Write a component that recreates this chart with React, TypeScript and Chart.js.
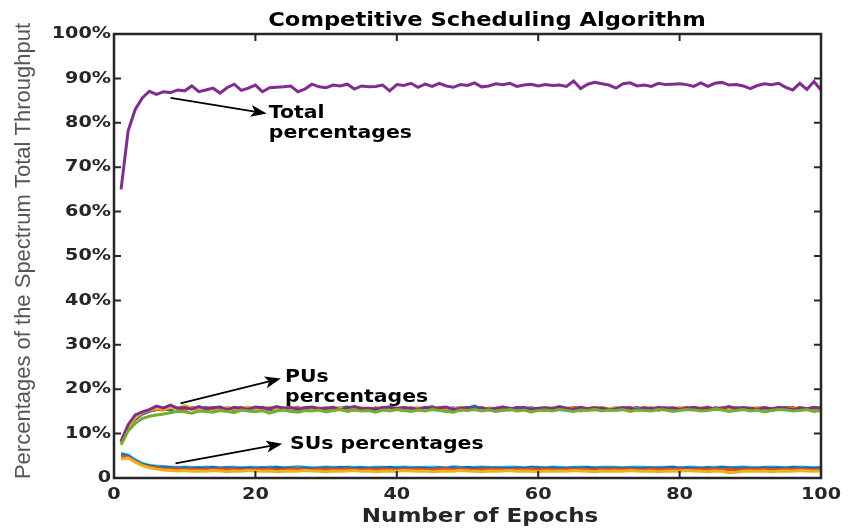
import React, { useEffect, useRef } from "react";
import { Chart, registerables } from "chart.js";

Chart.register(...registerables);

const epochs = [
  1, 2, 3, 4, 5, 6, 7, 8, 9, 10, 11, 12, 13, 14, 15, 16, 17, 18, 19, 20,
  21, 22, 23, 24, 25, 26, 27, 28, 29, 30, 31, 32, 33, 34, 35, 36, 37, 38, 39, 40,
  41, 42, 43, 44, 45, 46, 47, 48, 49, 50, 51, 52, 53, 54, 55, 56, 57, 58, 59, 60,
  61, 62, 63, 64, 65, 66, 67, 68, 69, 70, 71, 72, 73, 74, 75, 76, 77, 78, 79, 80,
  81, 82, 83, 84, 85, 86, 87, 88, 89, 90, 91, 92, 93, 94, 95, 96, 97, 98, 99, 100,
];

const xTicks = [0, 20, 40, 60, 80, 100];
const yTicks = [0, 10, 20, 30, 40, 50, 60, 70, 80, 90, 100];
const yTickLabels = ["0", "10%", "20%", "30%", "40%", "50%", "60%", "70%", "80%", "90%", "100%"];

const pu1 = [
  8.0, 11.3, 13.2, 14.4, 15.0, 15.4, 15.6, 15.3, 15.8, 15.5,
  15.7, 15.4, 15.9, 15.6, 15.3, 15.8, 15.5, 15.6, 15.2, 15.7,
  15.9, 15.4, 15.6, 15.8, 15.3, 15.5, 15.7, 15.9, 15.4, 15.6,
  15.5, 15.8, 16.0, 15.4, 15.6, 15.3, 15.7, 15.5, 15.9, 15.6,
  15.2, 15.8, 15.5, 15.7, 16.1, 15.4, 15.6, 15.8, 15.3, 15.7,
  16.2, 15.5, 15.6, 15.4, 15.9, 15.7, 15.2, 15.6, 15.8, 15.5,
  15.7, 15.4, 15.9, 15.6, 15.3, 15.8, 15.5, 15.7, 15.6, 15.4,
  15.8, 15.6, 15.5, 15.9, 15.3, 15.7, 15.6, 15.8, 15.4, 15.7,
  15.5, 15.9, 15.6, 15.3, 15.8, 15.7, 15.5, 15.9, 15.6, 15.4,
  15.7, 15.8, 15.2, 15.6, 15.9, 15.5, 15.7, 15.4, 15.8, 15.9,
];
const pu2 = [
  8.3, 11.6, 13.5, 14.6, 15.2, 15.5, 15.3, 15.8, 15.6, 15.4,
  15.9, 15.6, 15.3, 15.7, 15.5, 15.8, 15.4, 15.9, 15.6, 15.3,
  15.7, 15.5, 15.8, 15.4, 15.6, 15.9, 15.3, 15.7, 15.6, 15.8,
  15.4, 15.6, 15.5, 15.9, 15.7, 15.3, 15.8, 15.6, 15.4, 15.7,
  15.9, 15.5, 15.6, 15.3, 15.8, 15.7, 15.4, 15.6, 15.9, 15.5,
  15.6, 15.8, 15.4, 15.7, 15.5, 15.3, 15.9, 15.6, 15.7, 15.4,
  15.2, 15.8, 15.5, 15.6, 15.9, 15.7, 15.4, 15.3, 15.8, 15.6,
  15.5, 15.7, 15.9, 15.4, 15.6, 15.8, 15.3, 15.7, 15.5, 15.6,
  15.9, 15.4, 15.7, 16.0, 15.5, 15.6, 15.8, 15.3, 15.7, 15.6,
  15.4, 15.8, 15.6, 15.5, 15.7, 15.9, 15.4, 15.6, 15.8, 15.5,
];
const pu3 = [
  8.1, 11.4, 13.6, 14.8, 15.3, 15.7, 15.5, 15.9, 15.6, 16.3,
  15.8, 15.5, 15.7, 15.9, 15.4, 15.8, 15.6, 15.7, 16.0, 15.5,
  15.6, 15.9, 15.4, 15.8, 15.7, 15.5, 15.9, 15.6, 15.8, 15.4,
  15.7, 15.9, 15.5, 15.6, 15.8, 15.7, 15.4, 15.9, 15.6, 15.8,
  15.5, 15.7, 15.9, 15.6, 15.4, 15.8, 15.7, 15.5, 15.9, 15.6,
  15.7, 15.4, 15.8, 15.6, 15.9, 15.5, 15.7, 15.8, 15.4, 15.6,
  15.9, 15.7, 15.5, 15.8, 15.6, 15.0, 15.7, 15.9, 15.4, 15.6,
  15.8, 15.5, 15.7, 15.6, 15.9, 15.4, 15.8, 15.6, 15.7, 15.9,
  15.5, 15.6, 15.8, 15.7, 15.4, 16.0, 15.6, 15.8, 15.5, 15.7,
  15.9, 15.6, 15.4, 15.8, 15.7, 15.5, 15.9, 15.6, 15.7, 15.8,
];
const pu4 = [
  8.2, 12.0, 14.2, 14.9, 15.4, 16.2, 15.8, 16.4, 15.7, 15.9,
  15.5, 16.1, 15.6, 15.8, 16.0, 15.4, 15.9, 15.7, 15.5, 16.0,
  15.8, 15.6, 16.1, 15.7, 15.9, 15.5, 15.8, 16.0, 15.6, 15.7,
  15.9, 15.4, 15.8, 16.1, 15.6, 15.7, 15.5, 15.9, 16.0, 15.6,
  15.8, 15.7, 15.5, 15.9, 15.6, 15.8, 16.0, 15.4, 15.7, 15.9,
  15.6, 15.8, 15.5, 15.7, 16.0, 15.6, 15.8, 15.9, 15.5, 15.7,
  15.8, 15.6, 16.1, 15.7, 15.5, 15.9, 15.6, 15.8, 15.7, 15.4,
  15.6, 15.9, 15.7, 15.5, 15.8, 15.6, 15.9, 15.7, 15.8, 15.5,
  15.7, 15.9, 15.6, 15.8, 15.5, 15.7, 16.1, 15.6, 15.9, 15.7,
  15.5, 15.8, 15.6, 15.9, 15.7, 15.4, 15.8, 15.6, 15.9, 15.7,
];
const pu5 = [
  7.5, 10.6, 12.3, 13.4, 13.9, 14.2, 14.4, 14.7, 15.0, 14.9,
  14.6, 15.1, 15.0, 14.8, 15.2, 15.0, 14.7, 15.3, 15.1, 14.9,
  15.2, 14.6, 15.1, 15.3, 15.0, 14.8, 15.2, 15.1, 15.3, 14.9,
  15.2, 15.4, 15.0, 15.3, 15.1, 15.2, 14.8, 15.3, 15.1, 15.4,
  15.2, 15.0, 15.3, 15.1, 15.4, 15.2, 15.0, 14.8, 15.3, 15.2,
  15.4, 15.1, 15.3, 15.0, 15.2, 15.4, 15.1, 15.3, 14.9, 15.2,
  15.3, 15.1, 15.4, 15.2, 15.0, 15.3, 15.2, 15.5, 15.1, 15.3,
  15.2, 15.4, 15.0, 15.3, 15.2, 15.1, 15.4, 15.3, 15.0, 15.2,
  15.4, 15.3, 15.1, 15.2, 15.5, 15.3, 15.0, 15.2, 15.4, 15.1,
  15.3, 14.9, 15.2, 15.4, 15.3, 15.1, 15.2, 15.4, 15.0, 15.2,
];

const su1 = [
  5.6, 5.2, 4.1, 3.3, 2.9, 2.7, 2.6, 2.5, 2.4, 2.5,
  2.4, 2.3, 2.5, 2.4, 2.3, 2.4, 2.5, 2.3, 2.4, 2.4,
  2.3, 2.5, 2.4, 2.3, 2.4, 2.6, 2.4, 2.3, 2.4, 2.5,
  2.4, 2.3, 2.5, 2.4, 2.4, 2.3, 2.5, 2.4, 2.3, 2.4,
  2.5, 2.4, 2.3, 2.4, 2.5, 2.4, 2.3, 2.6, 2.4, 2.3,
  2.4, 2.5, 2.4, 2.3, 2.4, 2.5, 2.4, 2.3, 2.4, 2.4,
  2.3, 2.5, 2.4, 2.3, 2.4, 2.5, 2.4, 2.3, 2.4, 2.5,
  2.4, 2.3, 2.4, 2.5, 2.4, 2.3, 2.4, 2.4, 2.5, 2.3,
  2.4, 2.5, 2.3, 2.4, 2.4, 2.5, 2.3, 2.4, 2.5, 2.4,
  2.3, 2.4, 2.5, 2.4, 2.3, 2.4, 2.5, 2.4, 2.3, 2.4,
];
const su2 = [
  5.0, 4.8, 3.8, 3.0, 2.6, 2.4, 2.2, 2.1, 2.2, 2.0,
  2.1, 2.0, 2.2, 2.1, 1.9, 2.1, 2.0, 2.2, 2.1, 2.0,
  2.1, 2.2, 2.0, 2.1, 2.0, 2.1, 2.2, 2.0, 2.1, 2.0,
  2.2, 2.1, 2.0, 2.1, 2.2, 2.0, 2.1, 2.1, 2.0, 2.2,
  2.1, 2.0, 2.1, 2.2, 2.0, 2.1, 2.0, 2.1, 2.2, 2.1,
  2.0, 2.1, 2.2, 2.0, 2.1, 2.0, 2.2, 2.1, 2.0, 2.1,
  2.2, 2.1, 2.0, 2.1, 2.0, 2.2, 2.1, 2.0, 2.1, 2.2,
  2.0, 2.1, 2.1, 2.0, 2.2, 2.1, 2.0, 2.1, 2.0, 2.2,
  2.1, 2.0, 2.1, 2.2, 2.0, 2.1, 2.0, 2.2, 2.1, 2.0,
  2.1, 2.2, 2.0, 2.1, 2.0, 2.1, 2.2, 2.0, 2.1, 2.0,
];
const su3 = [
  5.3, 5.0, 3.9, 3.1, 2.7, 2.5, 2.4, 2.3, 2.2, 2.3,
  2.2, 2.3, 2.2, 2.4, 2.2, 2.3, 2.2, 2.1, 2.3, 2.2,
  2.3, 2.2, 2.4, 2.2, 2.3, 2.2, 2.3, 2.1, 2.2, 2.3,
  2.2, 2.4, 2.3, 2.2, 2.3, 2.2, 2.2, 2.3, 2.4, 2.2,
  2.3, 2.2, 2.3, 2.2, 2.1, 2.3, 2.2, 2.3, 2.2, 2.4,
  2.2, 2.3, 2.2, 2.3, 2.2, 2.2, 2.3, 2.2, 2.4, 2.3,
  2.2, 2.3, 2.2, 2.2, 2.3, 2.2, 2.4, 2.2, 2.3, 2.2,
  2.3, 2.2, 2.3, 2.2, 2.2, 2.3, 2.2, 2.3, 2.4, 2.2,
  2.3, 2.2, 2.2, 2.3, 2.2, 2.4, 2.3, 2.2, 2.3, 2.2,
  2.2, 2.3, 2.2, 2.3, 2.2, 2.4, 2.2, 2.3, 2.2, 2.3,
];
const su4 = [
  4.9, 4.7, 3.7, 2.9, 2.5, 2.3, 2.1, 2.0, 2.1, 1.9,
  2.0, 1.8, 2.0, 1.9, 2.1, 1.9, 2.0, 1.8, 1.9, 2.0,
  1.9, 2.0, 1.8, 1.9, 2.0, 2.1, 1.9, 1.8, 2.0, 1.9,
  2.0, 1.9, 2.1, 1.9, 1.8, 2.0, 1.9, 2.0, 1.9, 1.8,
  2.0, 1.9, 2.0, 1.8, 1.9, 2.0, 2.1, 1.9, 2.0, 1.9,
  1.8, 2.0, 1.9, 2.0, 1.9, 1.8, 2.0, 1.9, 2.1, 1.9,
  2.0, 1.9, 1.8, 2.0, 1.9, 2.0, 1.9, 1.8, 2.0, 1.9,
  2.1, 1.9, 2.0, 1.9, 1.8, 2.0, 1.9, 2.0, 1.9, 2.0,
  1.8, 1.9, 2.0, 1.9, 2.1, 1.9, 2.0, 1.8, 1.9, 2.0,
  1.9, 2.0, 1.9, 1.8, 2.0, 1.9, 2.0, 1.9, 1.8, 1.9,
];
const su5 = [
  4.3, 4.5, 3.6, 2.8, 2.3, 2.0, 1.8, 1.7, 1.6, 1.7,
  1.5, 1.6, 1.5, 1.7, 1.6, 1.4, 1.6, 1.5, 1.7, 1.6,
  1.5, 1.6, 1.4, 1.5, 1.6, 1.5, 1.7, 1.6, 1.5, 1.4,
  1.6, 1.5, 1.6, 1.7, 1.5, 1.6, 1.4, 1.5, 1.6, 1.5,
  1.7, 1.6, 1.5, 1.6, 1.4, 1.5, 1.6, 1.5, 1.7, 1.6,
  1.5, 1.4, 1.6, 1.5, 1.6, 1.7, 1.5, 1.6, 1.5, 1.4,
  1.6, 1.5, 1.6, 1.5, 1.7, 1.6, 1.5, 1.4, 1.6, 1.5,
  1.6, 1.5, 1.7, 1.6, 1.5, 1.6, 1.4, 1.5, 1.6, 1.5,
  1.7, 1.6, 1.5, 1.4, 1.6, 1.5, 1.2, 1.3, 1.5, 1.6,
  1.5, 1.6, 1.4, 1.5, 1.6, 1.5, 1.7, 1.6, 1.5, 1.6,
];

const total = [
  65.0, 78.2, 83.0, 85.6, 87.1, 86.4, 87.0, 86.8, 87.4, 87.2,
  88.3, 87.0, 87.4, 87.8, 86.7, 87.9, 88.7, 87.3, 87.8, 88.5,
  87.0, 87.9, 88.0, 88.1, 88.3, 87.0, 87.6, 88.7, 88.1, 87.9,
  88.5, 88.3, 88.7, 87.6, 88.3, 88.1, 88.2, 88.5, 87.2, 88.6,
  88.4, 88.9, 88.0, 88.7, 88.2, 88.9, 88.3, 88.0, 88.6, 88.4,
  89.0, 88.1, 88.3, 88.8, 88.6, 88.9, 88.2, 88.5, 88.7, 88.3,
  88.6, 88.4, 88.5, 88.2, 89.4, 87.7, 88.7, 89.1, 88.8, 88.5,
  87.8, 88.8, 89.0, 88.3, 88.5, 88.2, 88.9, 88.6, 88.7, 88.8,
  88.6, 88.2, 89.0, 88.2, 88.9, 89.1, 88.5, 88.6, 88.3, 87.7,
  88.4, 88.8, 88.6, 88.9, 88.0, 87.4, 88.9, 87.5, 89.3, 87.4,
];

const seriesList = [pu1, pu2, pu3, pu4, pu5, su1, su2, su3, su4, su5, total];
const seriesColors = [
  "#0072BD", "#D95319", "#EDB120", "#7E2F8E", "#77AC30",
  "#4DBEEE", "#A2142F", "#0072BD", "#D95319", "#EDB120",
  "#7E2F8E",
];

const titleText = "Competitive Scheduling Algorithm";
const xTitle = "Number of Epochs";
const yTitle = "Percentages of the Spectrum Total Throughput";

// annotation anchors in data units [epoch, percent]
const totalArrow = [[8.0, 85.6], [21.6, 82.1]];
const puArrow = [[9.4, 16.8], [23.6, 22.4]];
const suArrow = [[8.7, 3.3], [23.8, 7.7]];
const totalLabel = { at: [21.9, 81.0], lines: ["Total", "percentages"] };
const puLabel = { at: [24.2, 21.6], lines: ["PUs", "percentages"] };
const suLabel = { at: [24.9, 6.5], lines: ["SUs percentages"] };

function stretchText(ctx: CanvasRenderingContext2D, text: string, x: number, y: number, font: string, align: CanvasTextAlign, baseline: CanvasTextBaseline, sx: number, color: string) {
  ctx.save();
  ctx.font = font;
  ctx.fillStyle = color;
  ctx.textAlign = align;
  ctx.textBaseline = baseline;
  ctx.translate(x, y);
  ctx.scale(sx, 1);
  ctx.fillText(text, 0, 0);
  ctx.restore();
}

function drawArrow(ctx: CanvasRenderingContext2D, x1: number, y1: number, x2: number, y2: number) {
  const ang = Math.atan2(y2 - y1, x2 - x1);
  const headLen = 16;
  const headW = 6;
  const cos = Math.cos(ang);
  const sin = Math.sin(ang);
  const bx = x2 - headLen * cos;
  const by = y2 - headLen * sin;
  const nx = bx + 4 * cos;
  const ny = by + 4 * sin;
  ctx.save();
  ctx.strokeStyle = "#000";
  ctx.fillStyle = "#000";
  ctx.lineWidth = 1.8;
  ctx.beginPath();
  ctx.moveTo(x1, y1);
  ctx.lineTo(nx, ny);
  ctx.stroke();
  ctx.beginPath();
  ctx.moveTo(x2, y2);
  ctx.lineTo(bx - headW * sin, by + headW * cos);
  ctx.lineTo(nx, ny);
  ctx.lineTo(bx + headW * sin, by - headW * cos);
  ctx.closePath();
  ctx.fill();
  ctx.restore();
}

const decorPlugin = {
  id: "matlabDecor",
  afterDraw(chart: any) {
    const ctx: CanvasRenderingContext2D = chart.ctx;
    const xs = chart.scales.x;
    const ys = chart.scales.y;
    const { left, right, top, bottom } = chart.chartArea;
    const axisColor = "#262626";
    const tickFont = "bold 16px 'DejaVu Sans'";
    const tickSx = 1.2;

    // box
    ctx.save();
    ctx.strokeStyle = axisColor;
    ctx.lineWidth = 2.5;
    ctx.strokeRect(left, top, right - left, bottom - top);
    ctx.lineWidth = 2;
    const tl = 7;
    ctx.beginPath();
    xTicks.forEach((v) => {
      const px = xs.getPixelForValue(v);
      ctx.moveTo(px, bottom);
      ctx.lineTo(px, bottom - tl);
      ctx.moveTo(px, top);
      ctx.lineTo(px, top + tl);
    });
    yTicks.forEach((v) => {
      const py = ys.getPixelForValue(v);
      ctx.moveTo(left, py);
      ctx.lineTo(left + tl, py);
      ctx.moveTo(right, py);
      ctx.lineTo(right - tl, py);
    });
    ctx.stroke();
    ctx.restore();

    // tick labels
    xTicks.forEach((v) => {
      stretchText(ctx, String(v), xs.getPixelForValue(v), bottom + 9, tickFont, "center", "top", tickSx, axisColor);
    });
    yTicks.forEach((v, i) => {
      stretchText(ctx, yTickLabels[i], left - 3, ys.getPixelForValue(v), tickFont, "right", "middle", tickSx, axisColor);
    });

    // title
    stretchText(ctx, titleText, 487, 26, "bold 20px 'DejaVu Sans'", "center", "alphabetic", 1.13, "#000");
    // x title
    stretchText(ctx, xTitle, 480, 522, "bold 20px 'DejaVu Sans'", "center", "alphabetic", 1.15, axisColor);
    // y title
    ctx.save();
    ctx.translate(30, 251);
    ctx.rotate(-Math.PI / 2);
    ctx.font = "22px 'Liberation Sans'";
    ctx.fillStyle = "#555555";
    ctx.textAlign = "center";
    ctx.textBaseline = "alphabetic";
    ctx.fillText(yTitle, 0, 0);
    ctx.restore();

    // annotations
    const P = (pt: number[]) => [xs.getPixelForValue(pt[0]), ys.getPixelForValue(pt[1])];
    [totalArrow, puArrow, suArrow].forEach((a) => {
      const [x1, y1] = P(a[0]);
      const [x2, y2] = P(a[1]);
      drawArrow(ctx, x1, y1, x2, y2);
    });
    [totalLabel, puLabel, suLabel].forEach((lab) => {
      const [x, y] = P(lab.at);
      lab.lines.forEach((ln, i) => {
        stretchText(ctx, ln, x, y + i * 20, "bold 17px 'DejaVu Sans'", "left", "alphabetic", 1.2, "#000");
      });
    });
  },
};

export default function App() {
  const canvasRef = useRef<HTMLCanvasElement | null>(null);

  useEffect(() => {
    if (!canvasRef.current) return;
    const n = seriesList.length;
    const datasets = seriesList.map((s, k) => ({
      data: s.map((v, i) => ({ x: epochs[i], y: v })),
      borderColor: seriesColors[k],
      backgroundColor: seriesColors[k],
      borderWidth: 3,
      pointRadius: 0,
      tension: 0,
      fill: false,
      order: n - k,
    }));
    const chart = new Chart(canvasRef.current, {
      type: "line",
      data: { datasets },
      options: {
        animation: false,
        responsive: false,
        events: [],
        layout: { padding: { left: 114, right: 29, top: 34, bottom: 52 } },
        plugins: { legend: { display: false }, tooltip: { enabled: false }, title: { display: false } },
        scales: {
          x: { type: "linear", display: false, min: 0, max: 100 },
          y: { type: "linear", display: false, min: 0, max: 100 },
        },
      },
      plugins: [decorPlugin],
    } as any);
    return () => chart.destroy();
  }, []);

  return (
    <div style={{ position: "fixed", left: 0, top: 0, width: 850, height: 530, background: "#fff" }}>
      <canvas ref={canvasRef} width={850} height={530} />
    </div>
  );
}
